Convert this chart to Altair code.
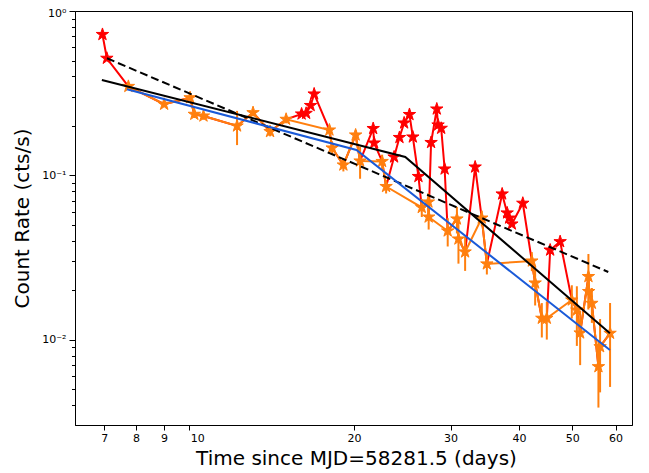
import altair as alt
import pandas as pd

# ---- light curve (all points, time-ordered); flare=1 -> only in the red (full) curve
time = [6.947, 7.077, 7.747, 9.003, 10.04, 10.22, 10.62, 12.23, 13.08, 14.05,
        15.03, 16.04, 16.35, 16.66, 16.91, 18.03, 18.24, 19.12, 20.13, 20.51,
        21.67, 21.76, 22.50, 22.88, 23.66, 24.20, 24.68, 25.24, 25.60, 26.21,
        26.58, 27.33, 27.36, 27.64, 28.31, 28.46, 28.84, 29.26, 29.64, 30.81,
        31.01, 31.89, 33.26, 34.20, 34.94, 37.26, 38.05, 38.37, 38.81, 40.64,
        42.21, 42.80, 44.02, 44.95, 45.59, 47.54, 49.93, 51.00, 51.71, 53.54,
        53.60, 54.32, 55.84, 56.23, 58.64]
rate = [0.720, 0.516, 0.348, 0.271, 0.297, 0.2355, 0.230, 0.200, 0.241, 0.185,
        0.2196, 0.2365, 0.2388, 0.2664, 0.313, 0.189, 0.147, 0.1158, 0.1763, 0.1225,
        0.193, 0.1576, 0.1217, 0.0857, 0.1296, 0.1702, 0.2086, 0.2348, 0.1714, 0.0986,
        0.0639, 0.0690, 0.0559, 0.1587, 0.2536, 0.2028, 0.1936, 0.1095, 0.0460, 0.0544,
        0.0411, 0.0343, 0.1126, 0.0551, 0.0290, 0.0772, 0.0592, 0.0551, 0.0507, 0.0678,
        0.0302, 0.0222, 0.01355, 0.01355, 0.0352, 0.0396, 0.0175, 0.0152, 0.01103, 0.0243,
        0.0197, 0.0167, 0.00688, 0.00910, 0.01098]
flare = [1, 1, 0, 0, 0, 0, 0, 0, 0, 0,
         0, 1, 1, 1, 1, 0, 0, 0, 0, 0,
         1, 1, 0, 0, 1, 1, 1, 1, 1, 1,
         0, 0, 0, 1, 1, 1, 1, 1, 0, 0,
         0, 0, 1, 0, 0, 1, 1, 1, 1, 1,
         0, 0, 0, 0, 1, 1, 0, 0, 0, 0,
         0, 0, 0, 0, 0]
rate_err = [0, 0, 0.010, 0.010, 0.010, 0.012, 0.012, 0.047, 0.012, 0.012,
            0.012, 0, 0, 0, 0, 0.012, 0.012, 0.010, 0.012, 0.027,
            0, 0, 0.012, 0.008, 0, 0, 0, 0, 0, 0,
            0.008, 0.009, 0.009, 0, 0, 0, 0, 0, 0.009, 0.010,
            0.012, 0.008, 0, 0.006, 0.004, 0, 0, 0, 0, 0,
            0.004, 0.006, 0.0032, 0.0035, 0, 0, 0.004, 0.006, 0.004, 0.009,
            0.004, 0.004, 0.003, 0.0043, 0.0058]

# ---- model curves (node points)
bpl_time = [6.93, 24.8, 58.6]
bpl_rate = [0.381, 0.1296, 0.0110]
pl_time = [7.08, 58.2]
pl_rate = [0.516, 0.0259]
blue_time = [7.70, 20.2, 58.6]
blue_rate = [0.334, 0.143, 0.00869]

x_ticks = [7, 8, 9, 10, 20, 30, 40, 50, 60]
y_major = [0.01, 0.1, 1.0]
y_minor = [m * d for d in (0.001, 0.01, 0.1) for m in range(2, 10) if m * d > 0.00304]

RED = "#ff0000"
ORANGE = "#ff7f0e"
BLUE = "#1a5ad8"
STAR = ("M0,-1L0.2245,-0.309L0.9511,-0.309L0.3633,0.118L0.5878,0.809L0,0.382"
        "L-0.5878,0.809L-0.3633,0.118L-0.9511,-0.309L-0.2245,-0.309Z")

df = pd.DataFrame({"t": time, "r": rate, "flare": flare, "err": rate_err})
df["lo"] = df["r"] - df["err"]
df["hi"] = df["r"] + df["err"]
orange = df[df["flare"] == 0]
flares = df[df["flare"] == 1]
errs = orange[orange["err"] > 0]
bpl = pd.DataFrame({"t": bpl_time, "r": bpl_rate})
pl = pd.DataFrame({"t": pl_time, "r": pl_rate})
blue = pd.DataFrame({"t": blue_time, "r": blue_rate})

xs = alt.Scale(type="log", domain=[6.19, 64.3], nice=False)
ys = alt.Scale(type="log", domain=[0.00304, 1.0], nice=False)

x_axis = alt.Axis(values=x_ticks, format="d", title="Time since MJD=58281.5 (days)",
                  grid=False, tickSize=5, labelFontSize=11, labelPadding=2,
                  titleFontSize=20, titleFontWeight="normal",
                  titleX=281, titleY=39, titleAlign="center", titleBaseline="alphabetic",
                  labelOffset={"condition": {"test": "datum.value == 10", "value": 8}, "value": 0})
X = alt.X("t:Q", scale=xs, axis=x_axis)

y_major_axis = alt.Axis(values=y_major, grid=False, tickSize=6, labelFontSize=11, labelPadding=3,
                        labelExpr="datum.value > 0.5 ? '10⁰' : (datum.value > 0.05 ? '10⁻¹' : '10⁻²')",
                        labelOffset={"condition": {"test": "datum.value > 0.5", "value": 2}, "value": 0},
                        title="Count Rate (cts/s)", titleFontSize=20, titleFontWeight="normal",
                        titleX=-53, titleY=207, titleAlign="center", titleBaseline="middle",
                        titleAngle=270, orient="left")
y_minor_axis = alt.Axis(values=y_minor, grid=False, tickSize=3.5, labels=False, domain=False,
                        title=None, orient="left")

red_line = alt.Chart(df).mark_line(color=RED, strokeWidth=2, clip=True).encode(
    x=X, y=alt.Y("r:Q", scale=ys, axis=y_major_axis), order="t:Q")
red_pts = alt.Chart(flares).mark_point(shape=STAR, filled=True, size=170, color=RED,
                                       stroke=RED, strokeWidth=1, opacity=1, clip=True).encode(
    x=X, y=alt.Y("r:Q", scale=ys, axis=y_minor_axis))
err_bars = alt.Chart(errs).mark_rule(color=ORANGE, strokeWidth=2, clip=True).encode(
    x=X, y=alt.Y("lo:Q", scale=ys, axis=None), y2="hi:Q")
orange_line = alt.Chart(orange).mark_line(color=ORANGE, strokeWidth=2, clip=True).encode(
    x=X, y=alt.Y("r:Q", scale=ys, axis=None), order="t:Q")
orange_pts = alt.Chart(orange).mark_point(shape=STAR, filled=True, size=170, color=ORANGE,
                                          stroke=ORANGE, strokeWidth=1, opacity=1, clip=True).encode(
    x=X, y=alt.Y("r:Q", scale=ys, axis=None))
bpl_line = alt.Chart(bpl).mark_line(color="black", strokeWidth=2, clip=True).encode(
    x=X, y=alt.Y("r:Q", scale=ys, axis=None))
pl_line = alt.Chart(pl).mark_line(color="black", strokeWidth=2, strokeDash=[8, 4], clip=True).encode(
    x=X, y=alt.Y("r:Q", scale=ys, axis=None))
blue_line = alt.Chart(blue).mark_line(color=BLUE, strokeWidth=2, clip=True).encode(
    x=X, y=alt.Y("r:Q", scale=ys, axis=None))

chart = alt.layer(red_line, red_pts, err_bars, orange_line, orange_pts,
                  bpl_line, pl_line, blue_line).resolve_axis(y="independent").properties(
    width=557, height=414,
    autosize=alt.AutoSizeParams(type="none"),
    padding={"left": 67, "top": 3, "right": 5, "bottom": 46},
).configure_view(stroke="black", strokeWidth=1).configure_axis(
    domainColor="black", tickColor="black", labelColor="black", titleColor="black",
    labelFont="DejaVu Sans", titleFont="DejaVu Sans", domainWidth=1, tickWidth=1)

chart.save("out.html", embed_options={"renderer": "svg", "actions": False})
